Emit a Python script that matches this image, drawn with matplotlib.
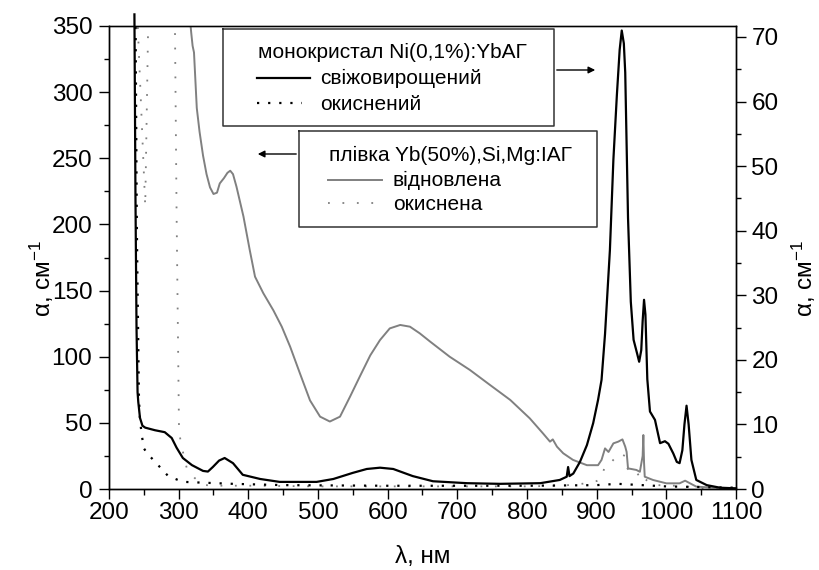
import numpy as np
import matplotlib
matplotlib.use("Agg")
import matplotlib.pyplot as plt
from matplotlib.ticker import MultipleLocator

plt.rcParams['font.family'] = ['Liberation Sans', 'DejaVu Sans']
plt.rcParams['mathtext.fontset'] = 'custom'
plt.rcParams['mathtext.rm'] = 'Liberation Sans'
plt.rcParams['mathtext.it'] = 'Liberation Sans'

# --- crystal Ni(0,1%):YbAG, right axis ---
wl_fresh = [236.5, 238, 239.5, 241, 242, 244.5, 248, 252, 266, 280, 290, 297, 306, 319, 335, 342,
            349, 358, 366, 372, 378, 392, 417, 445, 498, 522, 550, 570, 589, 608, 636, 665,
            714, 761, 819, 847, 857, 859, 861, 866.5, 876, 886, 895, 902, 907, 912, 919, 924,
            929, 933, 936, 939, 941, 945, 949, 953, 958, 961, 964, 966, 968, 970, 972.7,
            976.5, 983.7, 991, 998, 1003, 1010, 1015, 1019, 1023, 1026, 1029, 1032, 1036,
            1043, 1058, 1077, 1100]
a_fresh = [73.5, 45, 25, 15, 13.5, 11, 9.8, 9.5, 9.1, 8.8, 7.9, 6.4, 4.8, 3.7, 2.8, 2.7,
           3.4, 4.4, 4.8, 4.4, 4.0, 2.2, 1.55, 1.1, 1.1, 1.55, 2.5, 3.1, 3.3, 3.1, 2.0, 1.2,
           0.9, 0.8, 0.9, 1.4, 1.9, 3.4, 2.0, 2.4, 4.2, 6.8, 10.2, 13.8, 16.9, 24, 37, 51,
           61, 68, 71, 69, 64.5, 42, 29, 23.1, 21, 19.7, 21.5, 26, 29.3, 27, 17,
           12, 10.7, 7.1, 7.4, 7, 5.5, 4.2, 4.0, 6, 10, 12.9, 10, 4.5,
           1.4, 0.6, 0.2, 0.1]

wl_ox = [238, 240, 243, 244.5, 247, 250, 255, 261, 273, 285, 299, 308, 330, 378, 450, 600,
         800, 900, 930, 1000, 1100]
a_ox = [75, 40, 14, 10.7, 8.4, 6.3, 5.5, 4.8, 3.4, 2.0, 1.4, 1.1, 1.0, 0.8, 0.6, 0.5,
        0.5, 0.6, 0.8, 0.4, 0.2]

# --- film Yb(50%),Si,Mg:IAG, left axis ---
wl_red = [312, 318, 320, 322, 326, 330, 335, 340, 345, 350, 355, 359, 365, 370, 374, 378,
          383, 393, 402, 409.6, 421.5, 436, 448, 460, 474, 488.5, 503, 517, 531.6, 546,
          560, 575, 589, 603, 618, 632, 646, 661, 689, 718, 747, 776, 804, 823, 833, 837,
          843, 852, 866, 886, 902, 907, 912, 917, 924, 931, 937, 941, 943, 945, 957, 962,
          966, 967, 968, 969, 981, 1000, 1019, 1027, 1034, 1043, 1067, 1100]
a_red = [380, 345, 335, 330, 288, 270, 252, 238, 228, 223, 224, 231, 235, 239, 240.6, 238,
         228.5, 206, 180.7, 160.5, 148, 135, 122.7, 107.6, 87.5, 67, 54.7, 51, 54.7, 69.8,
         85, 101, 112.6, 121.4, 124, 122.7, 117.7, 111.4, 100, 90, 78.6, 67.3, 53.4, 42, 35.8, 37.5,
         32, 27, 22, 18, 18, 22, 30.7, 28, 34.5, 35.8, 37.5, 32, 28, 15.6, 14.4, 13,
         25, 40.8, 20, 9.3, 6.8, 4.3, 4.3, 6.3, 4.3, 1.8, 1, 0.5]

wl_film_ox = [240.5, 252, 256.5, 294.5, 297, 300.5, 303, 311.5, 323, 336, 360, 400, 500, 600,
              700, 800, 850, 880, 900, 907, 912, 921.5, 932.5, 940.6, 944, 955, 964.6, 968,
              981, 1000, 1022, 1043, 1100]
a_film_ox = [360, 214, 360, 360, 209, 45, 35, 16, 8.3, 3, 2.5, 2.5, 2, 2,
             2, 2, 2.5, 4, 6, 8, 18, 20.6, 27, 25, 15.6, 9.3, 13, 8,
             3.2, 2.5, 2.5, 0.8, 0.3]

W, H = 819, 570
fig = plt.figure(figsize=(W / 100, H / 100), dpi=100)
ax = fig.add_axes([109 / W, 1 - 489 / H, 627 / W, 463 / H])
ax2 = ax.twinx()

gray = '#808080'
ax.plot(wl_red, a_red, color=gray, lw=1.4)
ax.plot(wl_film_ox, a_film_ox, color=gray, lw=1.3, ls=(0, (1, 7)))
ax2.plot(wl_ox, a_ox, color='black', lw=1.6, ls=(0, (1, 4)))
ax2.plot(wl_fresh, a_fresh, color='black', lw=1.6, clip_on=False)

ax.set_xlim(200, 1100)
ax.set_ylim(0, 350)
ax2.set_ylim(0, 71.7)

ax.xaxis.set_major_locator(MultipleLocator(100))
ax.xaxis.set_minor_locator(MultipleLocator(50))
ax.yaxis.set_major_locator(MultipleLocator(50))
ax.yaxis.set_minor_locator(MultipleLocator(25))
ax2.yaxis.set_major_locator(MultipleLocator(10))
ax2.yaxis.set_minor_locator(MultipleLocator(5))

for a in (ax, ax2):
    a.tick_params(which='major', direction='out', length=7, width=1, labelsize=17.5)
    a.tick_params(which='minor', direction='out', length=3.5, width=1)
    for s in a.spines.values():
        s.set_linewidth(1)
ax.tick_params(axis='x', which='minor', length=4.5)
ax.tick_params(axis='x', pad=2.5)
ax.tick_params(axis='y', pad=5)
ax2.tick_params(axis='y', pad=4)
ax.tick_params(top=False, right=False)
ax.spines['top'].set_color('#444444')

ax.set_xlabel('λ, нм', fontsize=17.5)
ax.xaxis.set_label_coords(0.5, -0.123)
ax.set_ylabel('α, см$^{-1}$', fontsize=17.5)
ax.yaxis.set_label_coords(-0.085, 0.454)
ax2.set_ylabel('α, см$^{-1}$', fontsize=17.5)
ax2.yaxis.set_label_coords(1.086, 0.454)


def px(x, y):
    return x / W, 1 - y / H


def box(x0, y0, x1, y1):
    xs = [x0, x1, x1, x0, x0]
    ys = [y0, y0, y1, y1, y0]
    fig.add_artist(plt.Line2D([x / W for x in xs], [1 - y / H for y in ys],
                              color='#333333', lw=1.1))


fs = 15
# legend for the crystal
box(223, 29, 554, 126)
fig.text(*px(258, 53), 'монокристал Ni(0,1%):YbАГ', fontsize=fs, va='center')
fig.add_artist(plt.Line2D([257 / W, 310 / W], [1 - 78 / H] * 2, color='black', lw=1.6))
fig.text(*px(320, 78), 'свіжовирощений', fontsize=fs, va='center')
fig.add_artist(plt.Line2D([257 / W, 302 / W], [1 - 103 / H] * 2, color='black', lw=1.6,
                          ls=(0, (1, 4))))
fig.text(*px(320, 104), 'окиснений', fontsize=fs, va='center')
ax.annotate('', xy=px(598, 70), xycoords='figure fraction', xytext=px(554, 70),
            textcoords='figure fraction',
            arrowprops=dict(arrowstyle='-|>', color='black', lw=1, mutation_scale=10))

# legend for the film
box(299, 131, 597, 227)
fig.text(*px(329, 155), 'плівка Yb(50%),Si,Mg:ІАГ', fontsize=fs, va='center')
fig.add_artist(plt.Line2D([328 / W, 382 / W], [1 - 180 / H] * 2, color=gray, lw=1.4))
fig.text(*px(393, 180), 'відновлена', fontsize=fs, va='center')
fig.add_artist(plt.Line2D([328 / W, 374 / W], [1 - 203 / H] * 2, color=gray, lw=1.3,
                          ls=(0, (1, 7))))
fig.text(*px(393, 204), 'окиснена', fontsize=fs, va='center')
ax.annotate('', xy=px(255, 154), xycoords='figure fraction', xytext=px(299, 154),
            textcoords='figure fraction',
            arrowprops=dict(arrowstyle='-|>', color='black', lw=1, mutation_scale=10))

fig.savefig('out.png', dpi=100)
